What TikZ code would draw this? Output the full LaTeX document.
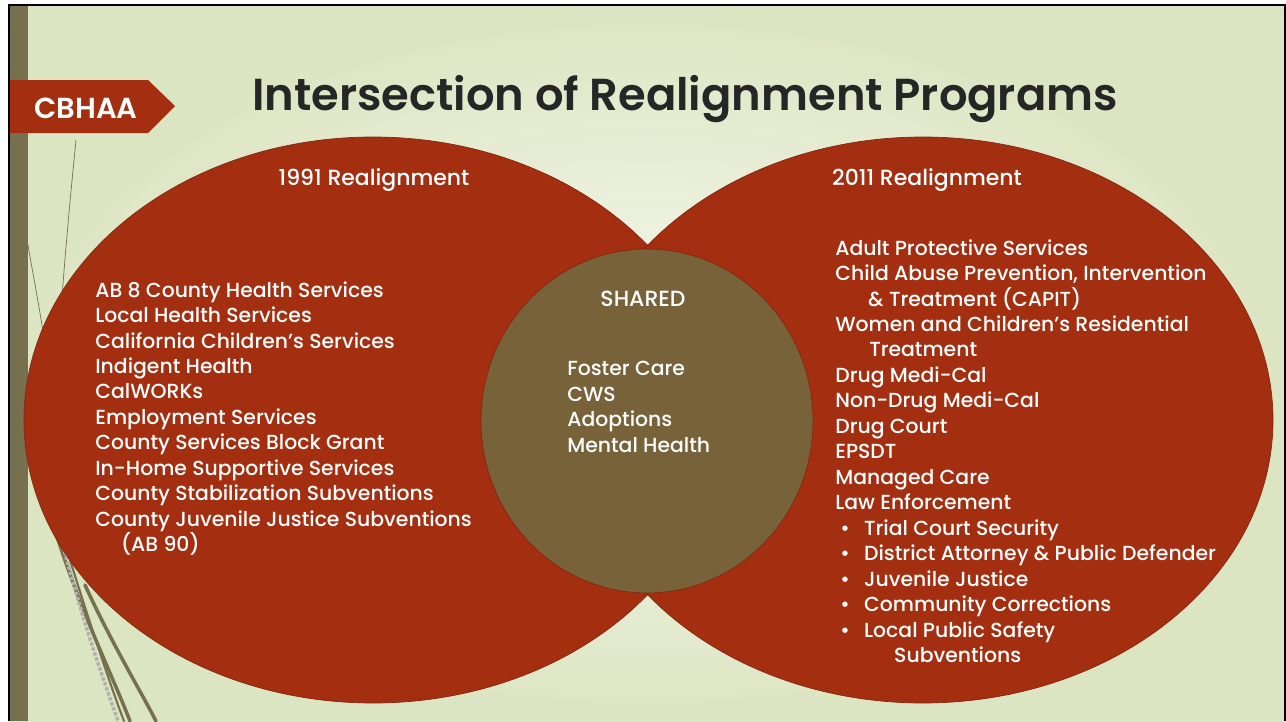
\documentclass[tikz,border=0pt]{standalone}
\usepackage{fontspec}
\setmainfont{Poppins}[UprightFont={* Medium}, BoldFont={* SemiBold}]
\usetikzlibrary{positioning}
\definecolor{slidered}{HTML}{A32E10}
\definecolor{edgered}{HTML}{862710}
\definecolor{sharedbrown}{HTML}{776239}
\definecolor{barbrown}{HTML}{77704F}
\definecolor{titlegray}{HTML}{262626}
\definecolor{bgouter}{HTML}{DCE5C2}
\definecolor{bginner}{HTML}{F7F9F0}

\tikzset{
  listtext/.style={text=white, align=left, anchor=north west, inner sep=0pt,
    font=\fontsize{11.6}{14.5}\selectfont},
  headtext/.style={text=white, anchor=base, inner sep=0pt,
    font=\fontsize{12.5}{15}\selectfont},
  wisp/.style={barbrown, line cap=round},
}
\newcommand{\bul}{\makebox[16.4pt][l]{\hspace{2.8pt}\textbullet}}

\begin{document}
\begin{tikzpicture}[x=0.02cm,y=-0.02cm]
    % page and background
    \useasboundingbox (0,0) rectangle (1286,721);
    \fill[white] (0,0) rectangle (1286,721);
    \shade[inner color=bginner, outer color=bgouter] (10,6) rectangle (1285,721);
    \fill[barbrown] (10,6) rectangle (28,721);
    \draw[black, line width=1.6pt] (9,721) -- (9,5) -- (1285,5) -- (1285,721);

    % wisps at the left
    \draw[wisp, thin] (76,140) .. controls (68,220) and (62,290) .. (60,330);
    \draw[wisp, thin] (28,245) .. controls (34,280) and (40,310) .. (45,345);
    \draw[wisp, line width=2pt] (55,530) .. controls (80,610) and (110,670) .. (130,721);
    \draw[wisp, line width=2pt] (85,585) .. controls (110,640) and (140,690) .. (156,721);
    \draw[wisp, line width=1.2pt] (70,560) .. controls (92,630) and (112,690) .. (124,721);
    \draw[gray!60, densely dotted, line width=2pt] (52,500) .. controls (75,600) and (100,670) .. (118,721);

    % tag
    \fill[slidered] (10,80) -- (148,80) -- (175,106) -- (148,133) -- (10,133) -- cycle;
    \node[text=white, anchor=base, inner sep=0pt, font=\fontsize{16.5}{20}\selectfont\bfseries] (tag) at (86,118) {CBHAA};

    % title
    \node[text=titlegray, anchor=base, inner sep=0pt, font=\fontsize{25.5}{31}\selectfont\bfseries] (title) at (685,110) {Intersection of Realignment Programs};

    % the two realignments and the shared part
    \draw[edgered, fill=slidered] (373,420) ellipse [x radius=349, y radius=283];
    \draw[edgered, fill=slidered] (923,420) ellipse [x radius=350, y radius=283];
    \draw[edgered, fill=sharedbrown] (647,421) ellipse [x radius=166, y radius=172];

    \node[headtext] (left head) at (374,185) {1991 Realignment};
    \node[headtext] (right head) at (927,185) {2011 Realignment};
    \node[headtext] (shared head) at (643,306) {SHARED};

    \node[listtext] (left list) at (95,281) {AB 8 County Health Services\\
      Local Health Services\\
      California Children’s Services\\
      Indigent Health\\
      CalWORKs\\
      Employment Services\\
      County Services Block Grant\\
      In-Home Supportive Services\\
      County Stabilization Subventions\\
      County Juvenile Justice Subventions\\
      \hspace*{14.7pt}(AB 90)};

    \node[listtext] (shared list) at (567,361) {Foster Care\\
      CWS\\
      Adoptions\\
      Mental Health};

    \node[listtext] (right list) at (835,239) {Adult Protective Services\\
      Child Abuse Prevention, Intervention\\
      \hspace*{18.7pt}\& Treatment (CAPIT)\\
      Women and Children’s Residential\\
      \hspace*{19.3pt}Treatment\\
      Drug Medi-Cal\\
      Non-Drug Medi-Cal\\
      Drug Court\\
      EPSDT\\
      Managed Care\\
      Law Enforcement\\
      \bul Trial Court Security\\
      \bul District Attorney \& Public Defender\\
      \bul Juvenile Justice\\
      \bul Community Corrections\\
      \bul Local Public Safety\\
      \hspace*{33.5pt}Subventions};
\end{tikzpicture}
\end{document}
